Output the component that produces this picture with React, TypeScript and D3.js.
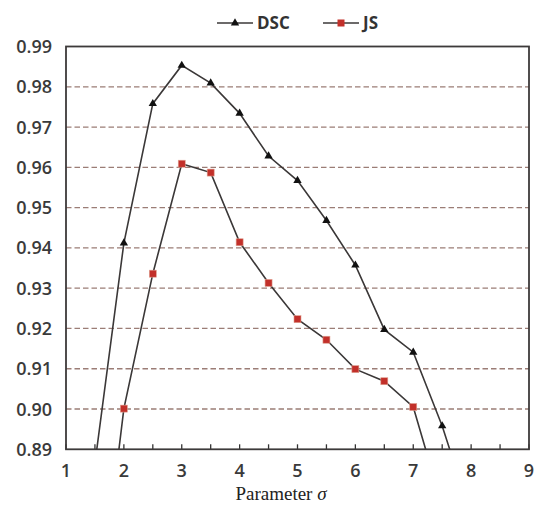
import React, { useEffect, useRef } from "react";
import * as d3 from "d3";

const sigmaDSC = [1.5, 2, 2.5, 3, 3.5, 4, 4.5, 5, 5.5, 6, 6.5, 7, 7.5, 8];
const valuesDSC = [0.8865, 0.9412, 0.9758, 0.9853, 0.9809, 0.9734, 0.9628, 0.9567, 0.9468, 0.9357, 0.9197, 0.9141, 0.8958, 0.8735];
const sigmaJS = [1.5, 2, 2.5, 3, 3.5, 4, 4.5, 5, 5.5, 6, 6.5, 7, 7.5];
const valuesJS = [0.841, 0.9001, 0.9336, 0.9609, 0.9587, 0.9414, 0.9313, 0.9223, 0.9172, 0.9099, 0.9069, 0.9005, 0.876];
const xTicks = [1, 2, 3, 4, 5, 6, 7, 8, 9];
const xMinorTicks = [1, 1.5, 2, 2.5, 3, 3.5, 4, 4.5, 5, 5.5, 6, 6.5, 7, 7.5, 8, 8.5, 9];
const yTicks = [0.89, 0.9, 0.91, 0.92, 0.93, 0.94, 0.95, 0.96, 0.97, 0.98, 0.99];
const seriesNames = ["DSC", "JS"];

const W = 535, H = 505;
const L = 66, R = 529, T = 46.5, B = 449.3;

export default function App() {
  const ref = useRef<SVGSVGElement>(null);
  useEffect(() => {
    const svg = d3.select(ref.current);
    svg.selectAll("*").remove();
    const x = d3.scaleLinear().domain([1, 9]).range([L, R]);
    const y = d3.scaleLinear().domain([0.89, 0.99]).range([B, T]);

    svg.append("rect").attr("width", W).attr("height", H).attr("fill", "#ffffff");

    svg.append("defs").append("clipPath").attr("id", "plotclip")
      .append("rect").attr("x", L).attr("y", T).attr("width", R - L).attr("height", B - T);

    // gridlines
    svg.append("g").selectAll("line")
      .data(yTicks.filter(v => v > 0.895 && v < 0.985))
      .join("line")
      .attr("x1", L).attr("x2", R)
      .attr("y1", d => y(d)).attr("y2", d => y(d))
      .attr("stroke", "#9b7d76").attr("stroke-width", 1.3)
      .attr("stroke-dasharray", "5.5,3");

    // minor ticks on x axis (inside)
    svg.append("g").selectAll("line")
      .data(xMinorTicks)
      .join("line")
      .attr("x1", d => x(d)).attr("x2", d => x(d))
      .attr("y1", B).attr("y2", B - 5)
      .attr("stroke", "#333").attr("stroke-width", 1.3);

    // frame
    svg.append("rect").attr("x", L).attr("y", T).attr("width", R - L).attr("height", B - T)
      .attr("fill", "none").attr("stroke", "#3d3a3a").attr("stroke-width", 1.8);

    const line = d3.line<[number, number]>().x(d => x(d[0])).y(d => y(d[1]));
    const dsc: [number, number][] = sigmaDSC.map((s, i) => [s, valuesDSC[i]]);
    const js: [number, number][] = sigmaJS.map((s, i) => [s, valuesJS[i]]);

    const plot = svg.append("g").attr("clip-path", "url(#plotclip)");
    plot.append("path").attr("d", line(dsc)!).attr("fill", "none").attr("stroke", "#3b3838").attr("stroke-width", 1.6);
    plot.append("path").attr("d", line(js)!).attr("fill", "none").attr("stroke", "#3b3838").attr("stroke-width", 1.6);

    const tri = d3.symbol().type(d3.symbolTriangle).size(30);
    plot.selectAll("path.tri").data(dsc).join("path").attr("class", "tri")
      .attr("d", tri()!)
      .attr("transform", d => `translate(${x(d[0])},${y(d[1])})`)
      .attr("fill", "#111");
    plot.selectAll("rect.sq").data(js).join("rect").attr("class", "sq")
      .attr("x", d => x(d[0]) - 3.5).attr("y", d => y(d[1]) - 3.5)
      .attr("width", 7).attr("height", 7)
      .attr("fill", "#c2302a").attr("stroke", "#e0a090").attr("stroke-width", 0.6);

    // y labels
    svg.append("g").selectAll("text").data(yTicks).join("text")
      .attr("x", 52).attr("y", d => y(d)).attr("dy", "0.36em")
      .attr("text-anchor", "end")
      .attr("font-family", "'Open Sans', sans-serif").attr("font-size", 18).attr("font-weight", 600)
      .attr("fill", "#3a3a3a")
      .text(d => d3.format(".2f")(d));

    // x labels
    svg.append("g").selectAll("text").data(xTicks).join("text")
      .attr("x", d => x(d)).attr("y", 477)
      .attr("text-anchor", "middle")
      .attr("font-family", "'Open Sans', sans-serif").attr("font-size", 18).attr("font-weight", 600)
      .attr("fill", "#3a3a3a")
      .text(d => String(d));

    // x title
    const t = svg.append("text").attr("x", 281).attr("y", 500).attr("text-anchor", "middle")
      .attr("font-family", "'Liberation Serif', 'Times New Roman', serif").attr("font-size", 19)
      .attr("fill", "#222");
    t.append("tspan").text("Parameter ");
    t.append("tspan").attr("font-style", "italic").text("σ");

    // legend
    const legY = 23;
    const lg = svg.append("g");
    const items = [
      { name: seriesNames[0], x0: 217 },
      { name: seriesNames[1], x0: 323 },
    ];
    items.forEach((it, i) => {
      lg.append("line").attr("x1", it.x0).attr("x2", it.x0 + 36).attr("y1", legY).attr("y2", legY)
        .attr("stroke", "#3b3838").attr("stroke-width", 1.6);
      if (i === 0) {
        lg.append("path").attr("d", tri()!).attr("transform", `translate(${it.x0 + 18},${legY})`).attr("fill", "#111");
      } else {
        lg.append("rect").attr("x", it.x0 + 18 - 3.5).attr("y", legY - 3.5).attr("width", 7).attr("height", 7)
          .attr("fill", "#c2302a");
      }
      lg.append("text").attr("x", it.x0 + 40).attr("y", legY).attr("dy", "0.36em")
        .attr("font-family", "'Open Sans', sans-serif").attr("font-size", 17).attr("font-weight", 700)
        .attr("fill", "#333").text(it.name);
    });
  }, []);
  return (
    <svg ref={ref} width={W} height={H} style={{ position: "absolute", left: 0, top: 0 }} />
  );
}
